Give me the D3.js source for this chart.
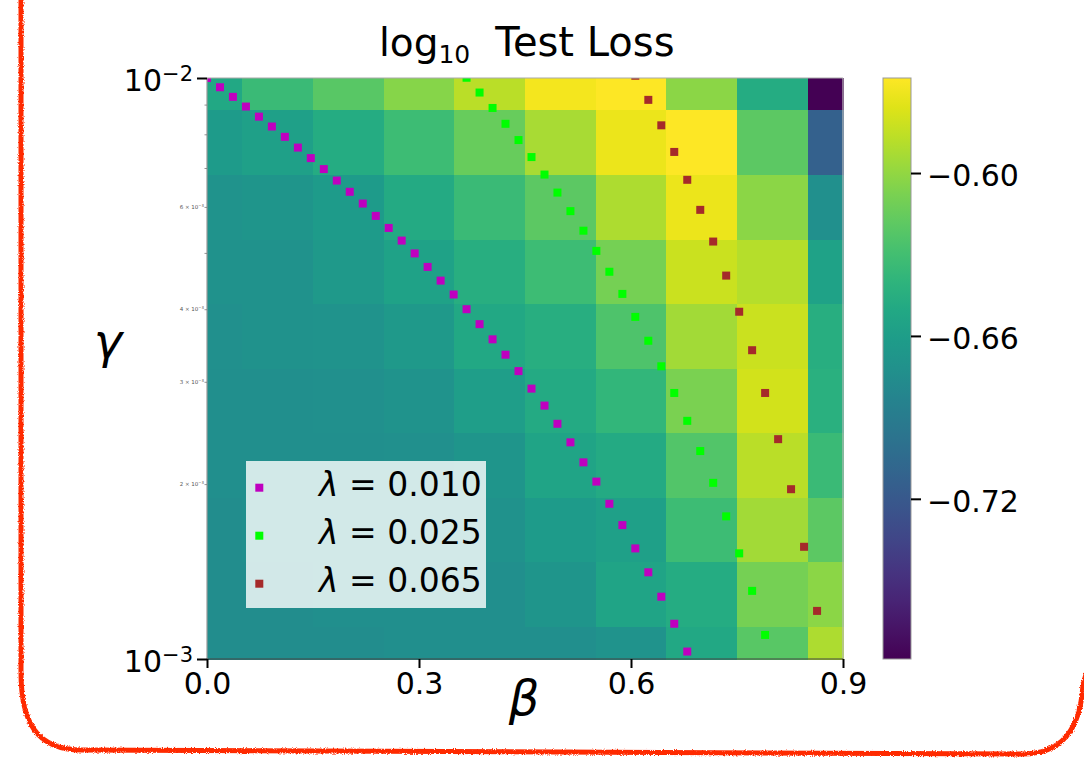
<!DOCTYPE html>
<html>
<head>
<meta charset="utf-8">
<script src="https://cdn.jsdelivr.net/npm/d3@7"></script>
<style>
  html, body { margin: 0; padding: 0; background: #fff; }
  svg { display: block; font-family: "DejaVu Sans", sans-serif; }
</style>
</head>
<body>
<div id="chart"></div>
<script>
// Cell centres of the heatmap
const betaCenters = [0, 0.1, 0.2, 0.3, 0.4, 0.5, 0.6, 0.7, 0.8, 0.9];
const gammaCenters = [1.0e-2, 7.74e-3, 5.99e-3, 4.64e-3, 3.59e-3, 2.78e-3, 2.15e-3, 1.67e-3, 1.29e-3, 1.0e-3];

// log10 test loss, one row per gamma (first row = 1e-2), one column per beta
const lossRows = [
  [-0.651, -0.634, -0.621, -0.604, -0.587, -0.569, -0.565, -0.602, -0.647, -0.779],
  [-0.662, -0.658, -0.647, -0.632, -0.615, -0.593, -0.571, -0.565, -0.619, -0.713],
  [-0.669, -0.667, -0.662, -0.649, -0.634, -0.619, -0.591, -0.571, -0.602, -0.672],
  [-0.671, -0.670, -0.664, -0.656, -0.645, -0.632, -0.610, -0.582, -0.589, -0.656],
  [-0.672, -0.671, -0.669, -0.664, -0.651, -0.645, -0.625, -0.595, -0.582, -0.645],
  [-0.673, -0.673, -0.672, -0.669, -0.660, -0.649, -0.638, -0.608, -0.580, -0.643],
  [-0.673, -0.673, -0.673, -0.672, -0.667, -0.654, -0.649, -0.623, -0.587, -0.634],
  [-0.675, -0.673, -0.673, -0.673, -0.671, -0.662, -0.658, -0.632, -0.595, -0.619],
  [-0.675, -0.675, -0.673, -0.673, -0.673, -0.667, -0.654, -0.647, -0.610, -0.602],
  [-0.675, -0.675, -0.675, -0.673, -0.673, -0.673, -0.669, -0.651, -0.621, -0.591]
];

// Ticks
const xTicks = [0, 0.3, 0.6, 0.9];
const yMajorTicks = [1e-2, 1e-3];
const yMinorTicks = [2e-3, 3e-3, 4e-3, 5e-3, 6e-3, 7e-3, 8e-3, 9e-3];
const yMinorLabelled = [2e-3, 3e-3, 4e-3, 6e-3];
const cbarTicks = [-0.60, -0.66, -0.72];

// Scatter series (gamma values in units of 1e-3)
const lambdaLabels = ["0.010", "0.025", "0.065"];
const lambdaColors = ["#bf00bf", "#00ff00", "#a52a2a"];

const beta010 = [0, 0.0184, 0.0367, 0.0551, 0.0735, 0.0918, 0.1102, 0.1286, 0.1469, 0.1653,
  0.1837, 0.2020, 0.2204, 0.2388, 0.2571, 0.2755, 0.2939, 0.3122, 0.3306, 0.3490,
  0.3673, 0.3857, 0.4041, 0.4224, 0.4408, 0.4592, 0.4776, 0.4959, 0.5143, 0.5327,
  0.5510, 0.5694, 0.5878, 0.6061, 0.6245, 0.6429, 0.6612, 0.6796];
const gamma010 = [10.00, 9.64, 9.28, 8.93, 8.58, 8.25, 7.92, 7.59, 7.28, 6.97,
  6.66, 6.37, 6.08, 5.79, 5.52, 5.25, 4.99, 4.73, 4.48, 4.24,
  4.00, 3.77, 3.55, 3.34, 3.13, 2.92, 2.73, 2.54, 2.36, 2.18,
  2.02, 1.85, 1.70, 1.55, 1.41, 1.28, 1.15, 1.03];

const beta025 = [0.3673, 0.3857, 0.4041, 0.4224, 0.4408, 0.4592, 0.4776, 0.4959, 0.5143, 0.5327,
  0.5510, 0.5694, 0.5878, 0.6061, 0.6245, 0.6429, 0.6612, 0.6796, 0.6980, 0.7163,
  0.7347, 0.7531, 0.7714, 0.7898];
const gamma025 = [10.01, 9.44, 8.88, 8.34, 7.82, 7.31, 6.82, 6.35, 5.90, 5.46,
  5.04, 4.64, 4.25, 3.88, 3.53, 3.19, 2.87, 2.57, 2.28, 2.01,
  1.76, 1.52, 1.31, 1.10];

const beta065 = [0.6061, 0.6245, 0.6429, 0.6612, 0.6796, 0.6980, 0.7163, 0.7347, 0.7531, 0.7714,
  0.7898, 0.8082, 0.8265, 0.8449, 0.8633];
const gamma065 = [10.09, 9.17, 8.29, 7.46, 6.68, 5.93, 5.23, 4.57, 3.96, 3.40,
  2.87, 2.39, 1.96, 1.56, 1.21];

const drawChart = () => {
  const root = d3.select("#chart");
  root.selectAll("*").remove();

  const W = 1084, H = 767;
  const P = { left: 207, right: 843, top: 78, bottom: 659 };

  const svg = root.append("svg")
    .attr("width", W)
    .attr("height", H)
    .attr("viewBox", `0 0 ${W} ${H}`);

  svg.append("rect").attr("width", W).attr("height", H).attr("fill", "#fff");

  const defs = svg.append("defs");

  const x = d3.scaleLinear().domain([0, 0.9]).range([P.left, P.right]);
  const y = d3.scaleLog().domain([1e-3, 1e-2]).range([P.bottom, P.top]);

  const flat = lossRows.flat();
  const vmin = d3.min(flat), vmax = d3.max(flat);
  const color = d3.scaleSequential(d3.interpolateViridis).domain([vmin, vmax]);

  // Heatmap cells (edges halfway between centres, clipped to the axes)
  const cells = [];
  lossRows.forEach((row, j) => {
    row.forEach((v, i) => {
      const b0 = i === 0 ? x.domain()[0] : (betaCenters[i - 1] + betaCenters[i]) / 2;
      const b1 = i === betaCenters.length - 1 ? x.domain()[1] : (betaCenters[i] + betaCenters[i + 1]) / 2;
      const g0 = j === 0 ? 1e-2 : Math.sqrt(gammaCenters[j - 1] * gammaCenters[j]);
      const g1 = j === gammaCenters.length - 1 ? 1e-3 : Math.sqrt(gammaCenters[j] * gammaCenters[j + 1]);
      cells.push({ b0, b1, g0, g1, v });
    });
  });

  svg.append("g")
    .attr("shape-rendering", "crispEdges")
    .selectAll("rect")
    .data(cells)
    .join("rect")
    .attr("x", d => x(d.b0))
    .attr("width", d => x(d.b1) - x(d.b0) + 0.5)
    .attr("y", d => y(d.g0))
    .attr("height", d => y(d.g1) - y(d.g0) + 0.5)
    .attr("fill", d => color(d.v));

  // Scatter squares, clipped to the axes
  defs.append("clipPath").attr("id", "plotClip")
    .append("rect")
    .attr("x", P.left).attr("y", P.top)
    .attr("width", P.right - P.left).attr("height", P.bottom - P.top);

  const series = [
    { betas: beta010, gammas: gamma010 },
    { betas: beta025, gammas: gamma025 },
    { betas: beta065, gammas: gamma065 }
  ];
  const ms = 8;
  const pts = svg.append("g").attr("clip-path", "url(#plotClip)");
  series.forEach((s, k) => {
    pts.append("g")
      .attr("fill", lambdaColors[k])
      .selectAll("rect")
      .data(s.betas.map((b, i) => ({ b, g: s.gammas[i] * 1e-3 })))
      .join("rect")
      .attr("x", d => x(d.b) - ms / 2)
      .attr("y", d => y(d.g) - ms / 2)
      .attr("width", ms)
      .attr("height", ms);
  });

  // Spines
  const sp = svg.append("g").attr("fill", "none");
  sp.append("line").attr("x1", P.left).attr("x2", P.right).attr("y1", P.top).attr("y2", P.top)
    .attr("stroke", "#aaa").attr("stroke-width", 1.2);
  sp.append("line").attr("x1", P.right).attr("x2", P.right).attr("y1", P.top).attr("y2", P.bottom)
    .attr("stroke", "#bbb").attr("stroke-width", 1.2);
  sp.append("line").attr("x1", P.left).attr("x2", P.left).attr("y1", P.top).attr("y2", P.bottom)
    .attr("stroke", "#999").attr("stroke-width", 1.2);
  sp.append("line").attr("x1", P.left).attr("x2", P.right).attr("y1", P.bottom).attr("y2", P.bottom)
    .attr("stroke", "#444").attr("stroke-width", 1.2);

  // X axis
  const gx = svg.append("g")
    .attr("transform", `translate(0, ${P.bottom})`)
    .call(d3.axisBottom(x).tickValues(xTicks).tickFormat(d3.format(".1f")).tickSize(9).tickPadding(5));
  gx.select(".domain").remove();
  gx.selectAll(".tick line").attr("stroke", "#000").attr("stroke-width", 2);
  gx.selectAll(".tick text").attr("fill", "#000").attr("font-size", 30)
    .attr("font-family", "DejaVu Sans");

  // Y axis, major ticks
  const gy = svg.append("g")
    .attr("transform", `translate(${P.left}, 0)`)
    .call(d3.axisLeft(y).tickValues(yMajorTicks).tickFormat("").tickSize(10));
  gy.select(".domain").remove();
  gy.selectAll(".tick line").attr("stroke", "#000").attr("stroke-width", 2);

  yMajorTicks.forEach(v => {
    const t = svg.append("text")
      .attr("x", 193)
      .attr("y", y(v) + 12.7)
      .attr("text-anchor", "end")
      .attr("font-size", 30)
      .attr("fill", "#000");
    t.append("tspan").text("10");
    t.append("tspan").attr("font-size", 21).attr("dy", -10)
      .text("\u2212" + Math.abs(Math.round(Math.log10(v))));
  });

  // Y axis, minor ticks with tiny labels
  const gyMinor = svg.append("g")
    .attr("transform", `translate(${P.left}, 0)`)
    .call(d3.axisLeft(y).tickValues(yMinorTicks).tickFormat("").tickSize(2.5));
  gyMinor.select(".domain").remove();
  gyMinor.selectAll(".tick line").attr("stroke", "#777").attr("stroke-width", 0.8);

  yMinorLabelled.forEach(v => {
    const m = Math.round(v * 1e3);
    const t = svg.append("text")
      .attr("x", 204)
      .attr("y", y(v) + 1.8)
      .attr("text-anchor", "end")
      .attr("font-size", 5.5)
      .attr("fill", "#555");
    t.append("tspan").text(`${m} \u00d7 10`);
    t.append("tspan").attr("font-size", 3.9).attr("dy", -2).text("\u22123");
  });

  // Axis labels
  svg.append("text")
    .attr("x", 524).attr("y", 715)
    .attr("text-anchor", "middle")
    .attr("font-size", 48).attr("font-style", "italic")
    .text("\u03b2");
  svg.append("text")
    .attr("x", 108).attr("y", 358)
    .attr("text-anchor", "middle")
    .attr("font-size", 48).attr("font-style", "italic")
    .text("\u03b3");

  // Title
  const title = svg.append("text")
    .attr("x", 379).attr("y", 56)
    .attr("font-size", 39).attr("fill", "#000");
  title.append("tspan").text("log");
  title.append("tspan").attr("font-size", 25).attr("dy", 7).text("10");
  title.append("tspan").attr("font-size", 40).attr("dy", -7).attr("dx", 25).text("Test Loss");

  // Legend
  const lg = svg.append("g");
  lg.append("rect")
    .attr("x", 246).attr("y", 461).attr("width", 240).attr("height", 147)
    .attr("fill", "#fff").attr("fill-opacity", 0.8);
  lambdaLabels.forEach((lab, i) => {
    lg.append("rect")
      .attr("x", 259.3 - ms / 2).attr("y", 487.7 + 48 * i - ms / 2)
      .attr("width", ms).attr("height", ms)
      .attr("fill", lambdaColors[i]);
    const t = lg.append("text")
      .attr("x", 319).attr("y", 495.7 + 48 * i)
      .attr("font-size", 33).attr("fill", "#000");
    t.append("tspan").attr("font-style", "italic").text("\u03bb");
    t.append("tspan").text(` = ${lab}`);
  });

  // Colorbar
  const cb = { x: 883, w: 28 };
  const grad = defs.append("linearGradient")
    .attr("id", "viridisGrad")
    .attr("x1", 0).attr("y1", 1).attr("x2", 0).attr("y2", 0);
  d3.range(0, 1.0001, 0.05).forEach(t => {
    grad.append("stop").attr("offset", t).attr("stop-color", d3.interpolateViridis(t));
  });
  svg.append("rect")
    .attr("x", cb.x).attr("y", P.top)
    .attr("width", cb.w).attr("height", P.bottom - P.top)
    .attr("fill", "url(#viridisGrad)")
    .attr("stroke", "#999").attr("stroke-width", 1);

  const c = d3.scaleLinear().domain([vmin, vmax]).range([P.bottom, P.top]);
  const gc = svg.append("g")
    .attr("transform", `translate(${cb.x + cb.w}, 0)`)
    .call(d3.axisRight(c).tickValues(cbarTicks).tickFormat(d3.format(".2f")).tickSize(10).tickPadding(6));
  gc.select(".domain").remove();
  gc.selectAll(".tick line").attr("stroke", "#000").attr("stroke-width", 2);
  gc.selectAll(".tick text").attr("fill", "#000").attr("font-size", 30)
    .attr("font-family", "DejaVu Sans").attr("dy", "0.42em");

  // Rough red frame (its right side runs off the canvas)
  const f = defs.append("filter").attr("id", "rough")
    .attr("filterUnits", "userSpaceOnUse")
    .attr("x", 0).attr("y", 0).attr("width", W).attr("height", H);
  f.append("feTurbulence").attr("type", "fractalNoise").attr("baseFrequency", 0.9)
    .attr("numOctaves", 2).attr("seed", 3).attr("result", "noise");
  f.append("feDisplacementMap").attr("in", "SourceGraphic").attr("in2", "noise")
    .attr("scale", 3.5).attr("xChannelSelector", "R").attr("yChannelSelector", "G");

  svg.append("path")
    .attr("d", "M 21 -20 L 21 672 C 21 722 36 750 82 750 L 1022 754 C 1062 754 1080 730 1083 685 L 1118 560")
    .attr("fill", "none").attr("stroke", "#ff2a00").attr("stroke-width", 5)
    .attr("stroke-linejoin", "round")
    .attr("filter", "url(#rough)");
};

drawChart();
</script>
</body>
</html>
